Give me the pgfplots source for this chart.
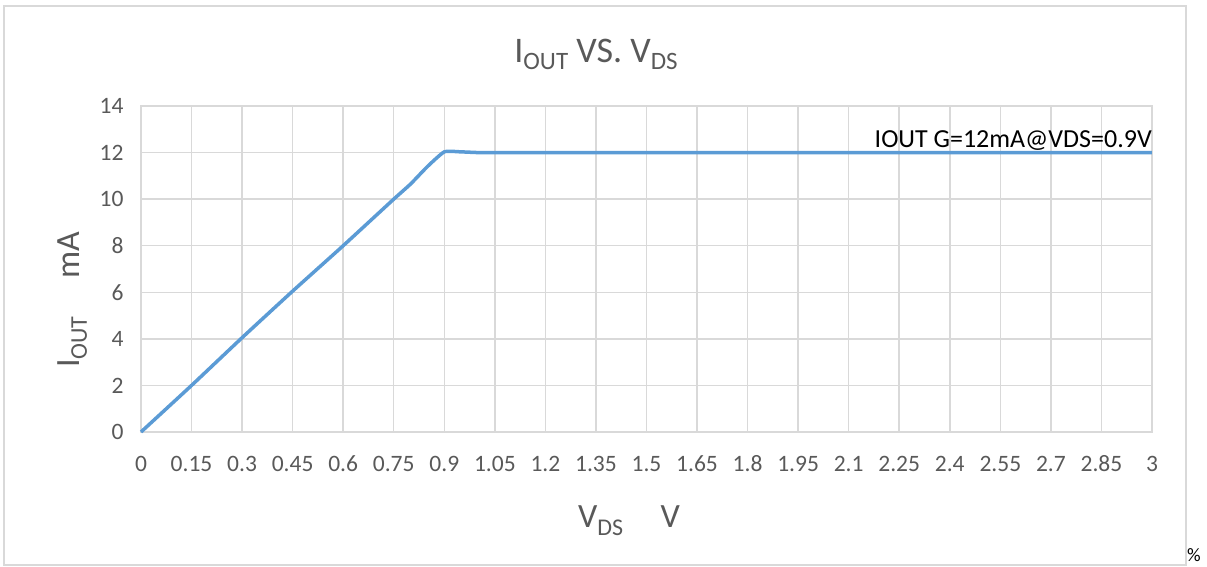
\documentclass[border=0pt]{standalone}
\usepackage{fontspec}
\setmainfont{Carlito}
\usepackage{pgfplots}
\pgfplotsset{compat=1.18}
\definecolor{txtgray}{HTML}{595959}
\definecolor{gridgray}{HTML}{D9D9D9}
\definecolor{lineblue}{HTML}{5B9BD5}
\newcommand{\sub}[2]{\raisebox{#1}{#2}}

\begin{document}
\begin{tikzpicture}
  \path[use as bounding box] (-141pt,-135pt) rectangle (1066pt,432pt);
  \draw[gridgray, line width=1.5pt] (-137pt,-133pt) rectangle (1045pt,426pt);

  \begin{axis}[
    at={(0pt,0pt)}, anchor=south west,
    scale only axis, width=1011pt, height=326pt,
    xmin=0, xmax=3, ymin=0, ymax=14,
    xtick={0,0.15,0.3,0.45,0.6,0.75,0.9,1.05,1.2,1.35,1.5,1.65,1.8,1.95,2.1,2.25,2.4,2.55,2.7,2.85,3},
    xticklabels={0,0.15,0.3,0.45,0.6,0.75,0.9,1.05,1.2,1.35,1.5,1.65,1.8,1.95,2.1,2.25,2.4,2.55,2.7,2.85,3},
    ytick={0,2,4,6,8,10,12,14},
    yticklabels={0,2,4,6,8,10,12,14},
    grid=major,
    major grid style={gridgray, line width=1.5pt},
    axis line style={gridgray, line width=1.5pt},
    major tick length=0pt,
    tick label style={font=\fontsize{23.5}{23.5}\selectfont, text=txtgray},
    xticklabel style={anchor=base, text height=16pt, text depth=0pt, yshift=-40pt},
    yticklabel style={xshift=-14pt},
    clip=false,
  ]
    \addplot[lineblue, line width=3.5pt, smooth, tension=0.3] coordinates {
      (0,0) (0.15,2) (0.3,4.05) (0.45,6.05) (0.6,8.0) (0.75,10.0)
      (0.8,10.65) (0.85,11.4) (0.9,12.03) (0.95,12.03) (1.0,12.0)
      (1.05,12) (1.5,12) (2.0,12) (2.5,12) (3,12)
    };
    \node[anchor=base east, inner sep=0pt, yshift=5pt, font=\fontsize{26}{26}\selectfont]
      at (axis cs:3,12) {IOUT G=12mA@VDS=0.9V};
  \end{axis}

  % title
  \node[anchor=base, inner sep=0pt, text=txtgray, font=\fontsize{36}{36}\selectfont]
    at (455pt,369pt) {I\sub{-7pt}{\fontsize{25}{25}\selectfont OUT} VS. V\sub{-7pt}{\fontsize{25}{25}\selectfont DS}};
  % x label
  \node[anchor=base, inner sep=0pt, text=txtgray, font=\fontsize{34}{34}\selectfont]
    at (488pt,-96pt) {V\sub{-7pt}{\fontsize{24}{24}\selectfont DS}\hspace{1.1em}V};
  % y label
  \node[anchor=base, rotate=90, inner sep=0pt, text=txtgray, font=\fontsize{34}{34}\selectfont]
    at (-61pt,132pt) {I\sub{-7pt}{\fontsize{24}{24}\selectfont OUT}\hspace{1.1em}mA};
  \node[anchor=base west, inner sep=0pt, font=\fontsize{19}{19}\selectfont]
    at (1046pt,-130pt) {\%};
\end{tikzpicture}
\end{document}
